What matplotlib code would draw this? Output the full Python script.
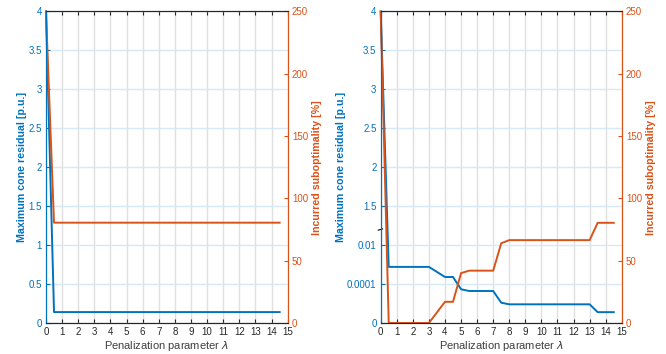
import numpy as np
import matplotlib
matplotlib.use("Agg")
import matplotlib.pyplot as plt

plt.rcParams['font.family'] = ['Liberation Sans', 'DejaVu Sans']

# penalization parameter grid
lam = [0, 0.5, 1, 1.5, 2, 2.5, 3, 3.5, 4, 4.5, 5, 5.5, 6, 6.5, 7, 7.5,
       8, 8.5, 9, 9.5, 10, 10.5, 11, 11.5, 12, 12.5, 13, 13.5, 14, 14.5]

# case 1: max cone residual [p.u.] and suboptimality [%]
resid_a = [4.0] + [0.14] * 29
subopt_a = [250.0] + [80.5] * 29

# case 2: residual shown on a broken (log below 0.01) axis
resid_b = [4.0, 7.6e-4, 7.6e-4, 7.6e-4, 7.6e-4, 7.6e-4, 7.6e-4, 4.2e-4,
           2.3e-4, 2.3e-4, 5.4e-5, 4.4e-5, 4.4e-5, 4.4e-5, 4.4e-5, 1.1e-5,
           9.1e-6, 9.1e-6, 9.1e-6, 9.1e-6, 9.1e-6, 9.1e-6, 9.1e-6, 9.1e-6,
           9.1e-6, 9.1e-6, 9.1e-6, 3.6e-6, 3.6e-6, 3.6e-6]
subopt_b = [250.0, 0, 0, 0, 0, 0, 0, 8.5, 17, 17, 40, 42, 42, 42, 42, 64,
            66.5, 66.5, 66.5, 66.5, 66.5, 66.5, 66.5, 66.5, 66.5, 66.5,
            66.5, 80.4, 80.4, 80.4]

resid_ticks_b = [1e-6, 1e-4, 0.01, 1.5, 2, 2.5, 3, 3.5, 4]
resid_labels_b = ['0', '0.0001', '0.01', '1.5', '2', '2.5', '3', '3.5', '4']

BLUE = '#0072BD'
ORANGE = '#D95319'
DARK = '#262626'


def fwd(v):
    v = np.asarray(v, dtype=float)
    with np.errstate(divide='ignore', invalid='ignore'):
        low = 0.25 * (np.log10(np.clip(v, 1e-12, None)) + 6)
        mid = 1 + 0.5 * (v - 0.01) / 1.49
    return np.where(v <= 0.01, low, np.where(v < 1.5, mid, v))


def inv(p):
    p = np.asarray(p, dtype=float)
    with np.errstate(over='ignore'):
        low = 10 ** (4 * np.clip(p, -5, 1) - 6)
    mid = 0.01 + (p - 1) * 1.49 / 0.5
    return np.where(p <= 1, low, np.where(p < 1.5, mid, p))


fig = plt.figure(figsize=(6.66, 3.54), dpi=100)
ax1 = fig.add_axes([0.069, 0.0876, 0.363, 0.88])
ax2 = fig.add_axes([0.5716, 0.0876, 0.362, 0.88])


def style(ax, tw):
    ax.set_xlim(0, 15)
    ax.set_xticks(range(16))
    ax.tick_params(axis='x', direction='in', top=True, length=3, width=0.8,
                   labelsize=7, colors=DARK, pad=3)
    ax.tick_params(axis='y', direction='in', length=3, width=0.8,
                   labelsize=7, colors=BLUE, pad=3)
    tw.set_ylim(0, 250)
    tw.set_yticks([0, 50, 100, 150, 200, 250])
    tw.tick_params(axis='y', direction='in', length=3, width=0.8,
                   labelsize=7, colors=ORANGE, pad=3)
    ax.xaxis.grid(True, color='#e0e0e0', lw=1.0)
    ax.yaxis.grid(True, color='#d9e8f5', lw=1.0)
    ax.set_axisbelow(True)
    for a in (ax, tw):
        a.spines['top'].set_color(DARK)
        a.spines['bottom'].set_color(DARK)
        a.spines['left'].set_color(BLUE)
        a.spines['right'].set_color(ORANGE)
        for s in a.spines.values():
            s.set_linewidth(0.8)
    ax.set_xlabel('Penalization parameter $\\lambda$', fontsize=8,
                  color='#404040', labelpad=1)
    ax.set_ylabel('Maximum cone residual [p.u.]', fontsize=7.7,
                  fontweight='bold', color=BLUE, labelpad=1)
    tw.set_ylabel('Incurred suboptimality [%]', fontsize=7.7,
                  fontweight='bold', color=ORANGE, labelpad=3)


# left panel
tw1 = ax1.twinx()
ax1.plot(lam, resid_a, color=BLUE, lw=1.4, clip_on=False, zorder=3)
ax1.set_ylim(0, 4)
ax1.set_yticks(np.arange(0, 4.01, 0.5))
ax1.set_yticklabels(['0', '0.5', '1', '1.5', '2', '2.5', '3', '3.5', '4'])
tw1.plot(lam, subopt_a, color=ORANGE, lw=1.4, clip_on=False)
style(ax1, tw1)

# right panel with broken residual axis
tw2 = ax2.twinx()
ax2.set_yscale('function', functions=(fwd, inv))
ax2.plot(lam, resid_b, color=BLUE, lw=1.4, clip_on=False, zorder=3)
ax2.set_ylim(1e-6, 4)
ax2.set_yticks(resid_ticks_b)
ax2.set_yticklabels(resid_labels_b)
ax2.yaxis.set_minor_locator(matplotlib.ticker.NullLocator())
tw2.plot(lam, subopt_b, color=ORANGE, lw=1.4, clip_on=False)
style(ax2, tw2)

# axis break mark
ax2.plot([-0.01, 0.008], [0.298, 0.302], color='black', lw=0.8,
         transform=ax2.transAxes, clip_on=False, zorder=5)

fig.savefig('out.png', dpi=100)
